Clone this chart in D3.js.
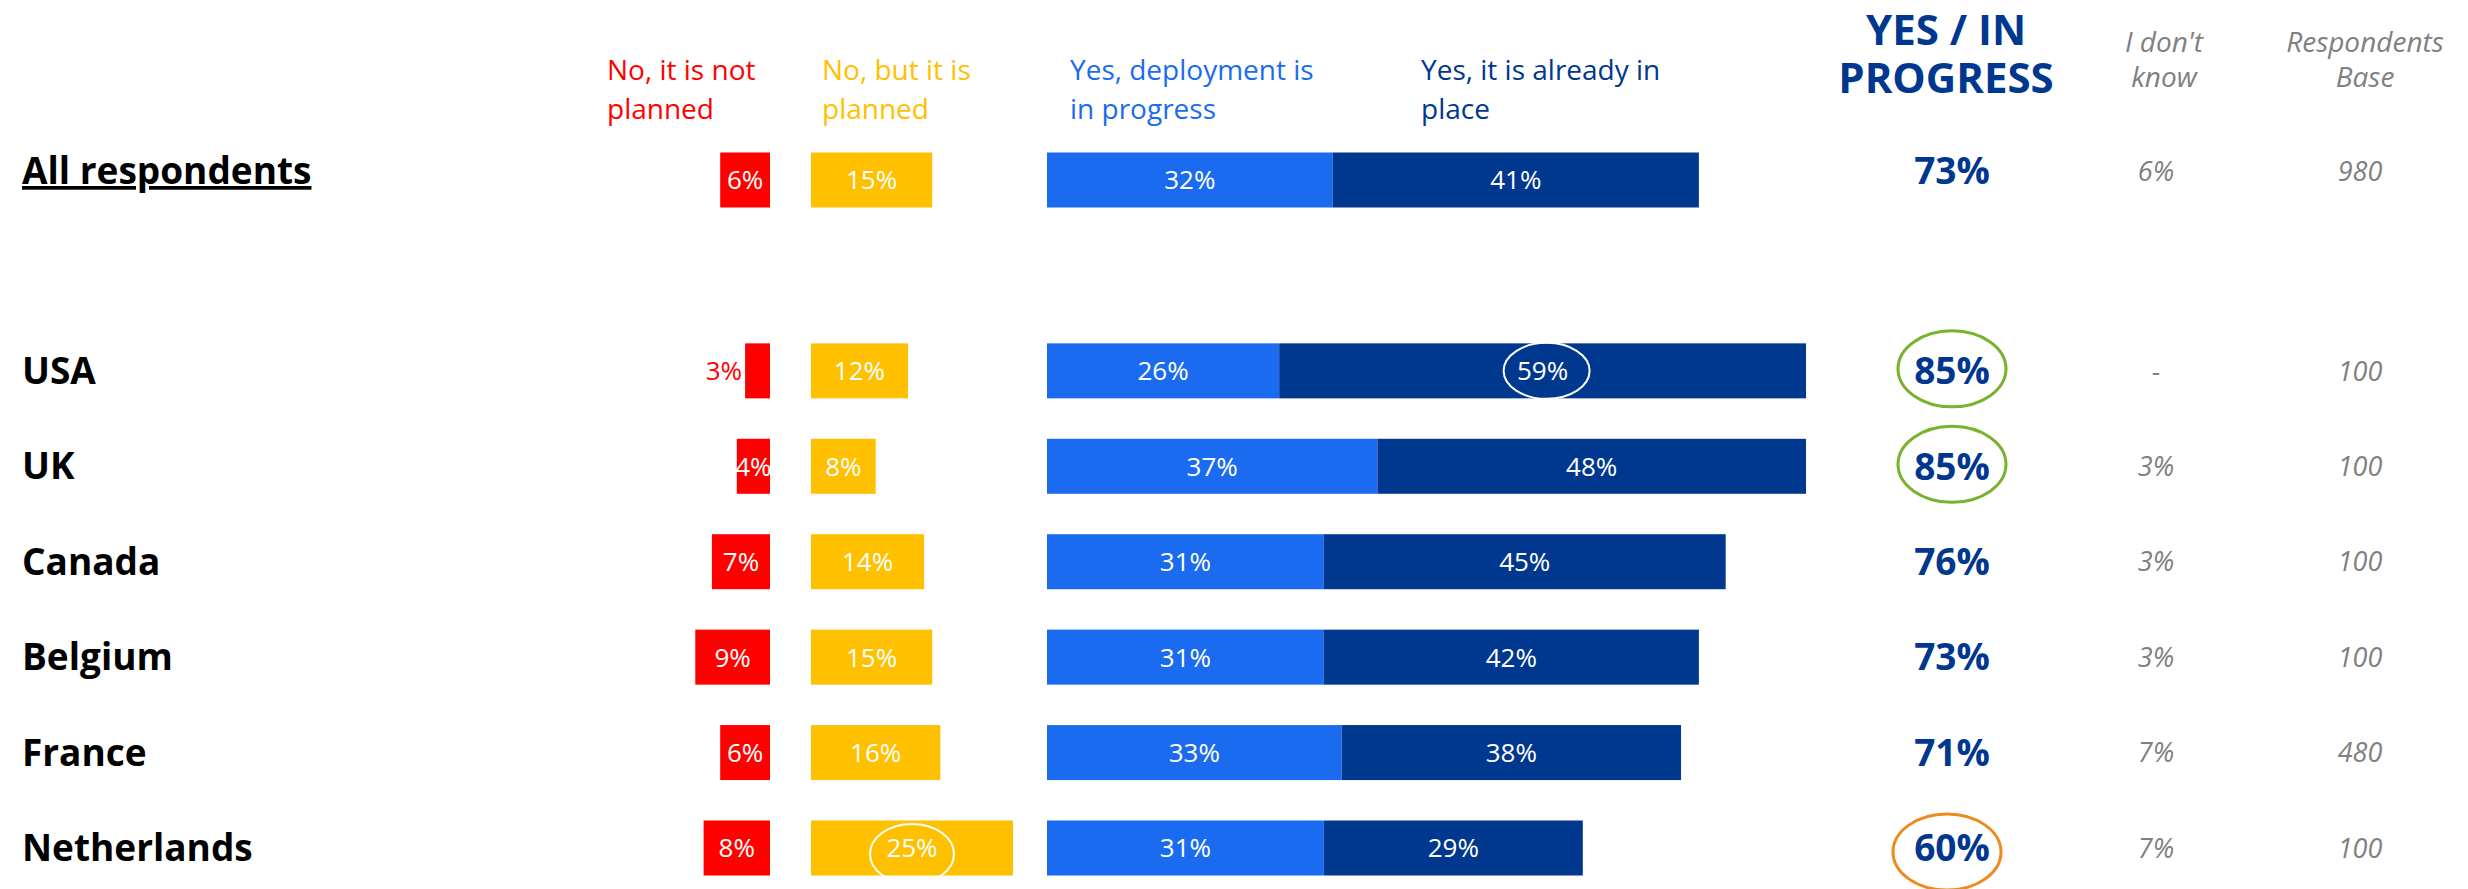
<!DOCTYPE html>
<html>
<head>
<meta charset="utf-8">
<script src="https://cdn.jsdelivr.net/npm/d3@7"></script>
<style>
	body { margin: 0; background: #fff; }
	text { font-family: "Open Sans", "DejaVu Sans", sans-serif; }
</style>
</head>
<body>
<div id="chart"></div>
<script>
/* global d3 */

// data
var rows = ["All respondents", "USA", "UK", "Canada", "Belgium", "France", "Netherlands"];
var notPlanned = [6, 3, 4, 7, 9, 6, 8];
var planned = [15, 12, 8, 14, 15, 16, 25];
var inProgress = [32, 26, 37, 31, 31, 33, 31];
var inPlace = [41, 59, 48, 45, 42, 38, 29];
var yesTotal = [73, 85, 85, 76, 73, 71, 60];
var dontKnow = ["6%", "-", "3%", "3%", "3%", "7%", "7%"];
var respondents = [980, 100, 100, 100, 100, 480, 100];

var seriesNames = [["No, it is not", "planned"], ["No, but it is", "planned"],
	["Yes, deployment is", "in progress"], ["Yes, it is already in", "place"]];
var totalHeader = ["YES / IN", "PROGRESS"];
var dontKnowHeader = ["I don't", "know"];
var baseHeader = ["Respondents", "Base"];

// circled values: total column (good / bad), and single segments
var totalMarks = {"USA": "good", "UK": "good", "Netherlands": "bad"};
var inPlaceMarks = ["USA"];
var plannedMarks = ["Netherlands"];

function surveyChart() {

	var width = 2468,
		height = 889,
		barH = 55,
		red = "#ff0000",
		yellow = "#ffc000",
		lightBlue = "#1b6bf0",
		darkBlue = "#00378f",
		gray = "#808080",
		green = "#78b22e",
		orange = "#ee8a1d";

	var yPos = d3.scalePoint()
		.domain([rows[0], "gap"].concat(rows.slice(1)))
		.range([180, 848]);

	var xNo = d3.scaleLinear().domain([0, 10]).range([770, 687]);
	var xPlan = d3.scaleLinear().domain([0, 25]).range([811, 1013]);
	var xYes = d3.scaleLinear().domain([0, 100]).range([1047, 1940]);

	var colTotal = 1952, colDk = 2156, colBase = 2360;

	function chart(selection) {
		var svg = selection.append("svg")
			.attr("width", width)
			.attr("height", height);

		var data = rows.map(function(r, i) {
			return {name: r, no: notPlanned[i], plan: planned[i], prog: inProgress[i],
				place: inPlace[i], total: yesTotal[i], dk: dontKnow[i], base: respondents[i]};
		});

		// the first row's outside texts sit a bit higher than its bars
		function ty(d) { return yPos(d.name) + (d.name === rows[0] ? -9 : 0); }

		// column headers
		var hx = [607, 822, 1070, 1421], hc = [red, yellow, lightBlue, darkBlue];
		seriesNames.forEach(function(lines, k) {
			svg.append("text")
				.attr("x", hx[k]).attr("y", 80)
				.attr("fill", hc[k])
				.style("font-size", "28px")
				.selectAll("tspan").data(lines).join("tspan")
				.attr("x", hx[k])
				.attr("dy", function(d, j) { return j ? 39 : 0; })
				.text(function(d) { return d; });
		});

		svg.append("text")
			.attr("y", 45).attr("text-anchor", "middle")
			.attr("fill", darkBlue)
			.style("font-size", "42px").style("font-weight", "bold")
			.selectAll("tspan").data(totalHeader).join("tspan")
			.attr("x", 1946)
			.attr("dy", function(d, j) { return j ? 48 : 0; })
			.text(function(d) { return d; });

		[[dontKnowHeader, 2164], [baseHeader, 2365]].forEach(function(h) {
			svg.append("text")
				.attr("y", 52).attr("text-anchor", "middle")
				.attr("fill", gray)
				.style("font-size", "28px").style("font-style", "italic")
				.selectAll("tspan").data(h[0]).join("tspan")
				.attr("x", h[1])
				.attr("dy", function(d, j) { return j ? 35 : 0; })
				.text(function(d) { return d; });
		});

		var row = svg.selectAll("g.row").data(data).join("g")
			.attr("class", "row");

		// row labels
		row.append("text")
			.attr("x", 22)
			.attr("y", function(d) { return ty(d) + 13; })
			.style("font-size", "37px").style("font-weight", "bold")
			.style("text-decoration", function(d) { return d.name === rows[0] ? "underline" : null; })
			.text(function(d) { return d.name; });

		// not planned (grows leftwards)
		row.append("rect")
			.attr("x", function(d) { return xNo(d.no); })
			.attr("y", function(d) { return yPos(d.name) - barH / 2; })
			.attr("width", function(d) { return xNo(0) - xNo(d.no); })
			.attr("height", barH)
			.attr("fill", red);

		row.append("text")
			.attr("x", function(d) { return d.no < 4 ? xNo(d.no) - 3 : (xNo(0) + xNo(d.no)) / 2; })
			.attr("y", function(d) { return yPos(d.name); })
			.attr("dy", "0.36em")
			.attr("text-anchor", function(d) { return d.no < 4 ? "end" : "middle"; })
			.attr("fill", function(d) { return d.no < 4 ? red : "#fff"; })
			.style("font-size", "26px")
			.text(function(d) { return d.no + "%"; });

		// planned
		row.append("rect")
			.attr("x", xPlan(0))
			.attr("y", function(d) { return yPos(d.name) - barH / 2; })
			.attr("width", function(d) { return xPlan(d.plan) - xPlan(0); })
			.attr("height", barH)
			.attr("fill", yellow);

		row.append("text")
			.attr("x", function(d) { return (xPlan(0) + xPlan(d.plan)) / 2; })
			.attr("y", function(d) { return yPos(d.name); })
			.attr("dy", "0.36em")
			.attr("text-anchor", "middle")
			.attr("fill", "#fff")
			.style("font-size", "26px")
			.text(function(d) { return d.plan + "%"; });

		// yes: in progress + in place, stacked
		row.append("rect")
			.attr("x", xYes(0))
			.attr("y", function(d) { return yPos(d.name) - barH / 2; })
			.attr("width", function(d) { return xYes(d.prog) - xYes(0); })
			.attr("height", barH)
			.attr("fill", lightBlue);

		row.append("rect")
			.attr("x", function(d) { return xYes(d.prog); })
			.attr("y", function(d) { return yPos(d.name) - barH / 2; })
			.attr("width", function(d) { return xYes(d.prog + d.place) - xYes(d.prog); })
			.attr("height", barH)
			.attr("fill", darkBlue);

		row.append("text")
			.attr("x", function(d) { return (xYes(0) + xYes(d.prog)) / 2; })
			.attr("y", function(d) { return yPos(d.name); })
			.attr("dy", "0.36em")
			.attr("text-anchor", "middle")
			.attr("fill", "#fff")
			.style("font-size", "26px")
			.text(function(d) { return d.prog + "%"; });

		row.append("text")
			.attr("x", function(d) { return (xYes(d.prog) + xYes(d.prog + d.place)) / 2; })
			.attr("y", function(d) { return yPos(d.name); })
			.attr("dy", "0.36em")
			.attr("text-anchor", "middle")
			.attr("fill", "#fff")
			.style("font-size", "26px")
			.text(function(d) { return d.place + "%"; });

		// white rings around notable segment values
		row.filter(function(d) { return inPlaceMarks.indexOf(d.name) >= 0; })
			.append("ellipse")
			.attr("cx", function(d) { return (xYes(d.prog) + xYes(d.prog + d.place)) / 2 + 4; })
			.attr("cy", function(d) { return yPos(d.name); })
			.attr("rx", 43).attr("ry", 28)
			.attr("fill", "none").attr("stroke", "#fff").attr("stroke-width", 2);

		row.filter(function(d) { return plannedMarks.indexOf(d.name) >= 0; })
			.append("ellipse")
			.attr("cx", function(d) { return (xPlan(0) + xPlan(d.plan)) / 2; })
			.attr("cy", function(d) { return yPos(d.name) + 6; })
			.attr("rx", 42).attr("ry", 30)
			.attr("fill", "none").attr("stroke", "#fff").attr("stroke-width", 2);

		// totals
		row.append("text")
			.attr("x", colTotal)
			.attr("y", function(d) { return ty(d); })
			.attr("dy", "0.36em")
			.attr("text-anchor", "middle")
			.attr("fill", darkBlue)
			.style("font-size", "37px").style("font-weight", "bold")
			.text(function(d) { return d.total + "%"; });

		row.filter(function(d) { return totalMarks[d.name]; })
			.append("ellipse")
			.attr("cx", function(d) { return colTotal - (totalMarks[d.name] === "bad" ? 5 : 0); })
			.attr("cy", function(d) { return yPos(d.name) + (totalMarks[d.name] === "bad" ? 4 : -2); })
			.attr("rx", 54).attr("ry", 38)
			.attr("fill", "none")
			.attr("stroke", function(d) { return totalMarks[d.name] === "good" ? green : orange; })
			.attr("stroke-width", 3);

		row.append("text")
			.attr("x", colDk)
			.attr("y", function(d) { return ty(d); })
			.attr("dy", "0.36em")
			.attr("text-anchor", "middle")
			.attr("fill", gray)
			.style("font-size", "27px").style("font-style", "italic")
			.text(function(d) { return d.dk; });

		row.append("text")
			.attr("x", colBase)
			.attr("y", function(d) { return ty(d); })
			.attr("dy", "0.36em")
			.attr("text-anchor", "middle")
			.attr("fill", gray)
			.style("font-size", "27px").style("font-style", "italic")
			.text(function(d) { return d.base; });
	}

	return chart;
}

d3.select("#chart").call(surveyChart());
</script>
</body>
</html>
